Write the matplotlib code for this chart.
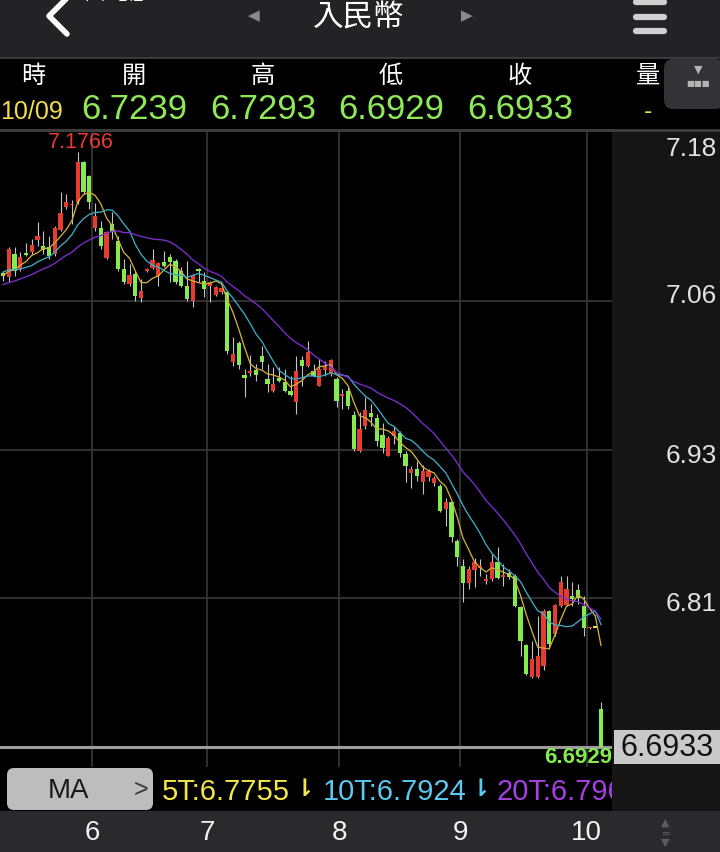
import matplotlib
matplotlib.use('Agg')
import matplotlib.pyplot as plt
import numpy as np
from matplotlib.patches import Rectangle, FancyBboxPatch
from matplotlib.lines import Line2D
from matplotlib.transforms import IdentityTransform, blended_transform_factory

# ---------------- data ----------------
title = '入民幣'
status_text = '中華電信'
header_labels = ['時', '開', '高', '低', '收', '量']
header_date = '10/09'
header_values = ['6.7239', '6.7293', '6.6929', '6.6933']
header_volume = '-'
y_tick_labels = ['7.18', '7.06', '6.93', '6.81']
month_labels = ['6', '7', '8', '9', '10']
month_start_idx = [16, 36, 59, 80, 102]
ma_periods = [5, 10, 20]

opens = [
    7.0780, 7.0747, 7.0937, 7.0815, 7.0942, 7.0951, 7.1051, 7.0999, 7.0991, 7.0937,
    7.1134, 7.1316, 7.1333, 7.1357, 7.1682, 7.1573, 7.1146, 7.1146, 7.0902, 7.1181,
    7.1045, 7.0815, 7.0693, 7.0774, 7.0577, 7.0799, 7.0820, 7.0760, 7.0869, 7.0910,
    7.0882, 7.0801, 7.0679, 7.0557, 7.0815, 7.0720, 7.0674, 7.0603, 7.0625, 7.0625,
    7.0056, 7.0213, 6.9953, 6.9967, 6.9996, 7.0110, 6.9920, 6.9825, 6.9929, 6.9899,
    6.9825, 6.9736, 7.0075, 7.0029, 6.9988, 6.9866, 6.9996, 6.9961, 6.9920, 6.9785,
    6.9825, 6.9628, 6.9338, 6.9541, 6.9642, 6.9601, 6.9465, 6.9297, 6.9460, 6.9481,
    6.9311, 6.9156, 6.9189, 6.9081, 6.9121, 6.9075, 6.9053, 6.8864, 6.8923, 6.8606,
    6.8403, 6.8262, 6.8370, 6.8384, 6.8282, 6.8295, 6.8430, 6.8315, 6.8343, 6.8321,
    6.8069, 6.7758, 6.7495, 6.7495, 6.7590, 6.8032, 6.7847, 6.8077, 6.8083, 6.8159,
    6.8207, 6.8077, 6.7893, 6.7900, 6.7239]
highs = [
    7.0801, 7.0991, 7.0991, 7.0951, 7.1026, 7.1059, 7.1194, 7.1126, 7.1086, 7.1162,
    7.1438, 7.1425, 7.1378, 7.1766, 7.1690, 7.1579, 7.1351, 7.1207, 7.1126, 7.1276,
    7.1086, 7.0896, 7.0855, 7.0801, 7.0733, 7.0823, 7.0977, 7.0869, 7.0964, 7.0937,
    7.0896, 7.0829, 7.0882, 7.0774, 7.0820, 7.0788, 7.0720, 7.0679, 7.0666, 7.0638,
    7.0259, 7.0232, 7.0002, 7.0116, 7.0042, 7.0191, 7.0042, 7.0016, 7.0016, 7.0002,
    6.9947, 7.0110, 7.0110, 7.0232, 7.0042, 7.0083, 7.0069, 7.0083, 6.9934, 6.9839,
    6.9853, 6.9663, 6.9650, 6.9772, 6.9717, 6.9636, 6.9560, 6.9460, 6.9528, 6.9500,
    6.9338, 6.9216, 6.9256, 6.9221, 6.9189, 6.9134, 6.9067, 6.8951, 6.8931, 6.8620,
    6.8457, 6.8403, 6.8463, 6.8457, 6.8335, 6.8498, 6.8552, 6.8416, 6.8376, 6.8335,
    6.8077, 6.7766, 6.7793, 6.7996, 6.8051, 6.8040, 6.8091, 6.8321, 6.8316, 6.8268,
    6.8254, 6.8159, 6.7905, 6.7900, 6.7293]
lows = [
    7.0720, 7.0707, 7.0760, 7.0801, 7.0918, 7.0937, 7.1004, 7.0937, 7.0896, 7.0923,
    7.1126, 7.1303, 7.1181, 7.1343, 7.1425, 7.1303, 7.1126, 7.0977, 7.0896, 7.1059,
    7.0801, 7.0693, 7.0679, 7.0557, 7.0544, 7.0790, 7.0815, 7.0679, 7.0829, 7.0707,
    7.0693, 7.0666, 7.0557, 7.0503, 7.0707, 7.0585, 7.0544, 7.0593, 7.0612, 7.0124,
    7.0029, 7.0002, 6.9772, 6.9947, 6.9907, 7.0002, 6.9812, 6.9812, 6.9894, 6.9812,
    6.9785, 6.9636, 6.9866, 7.0016, 6.9934, 6.9866, 6.9947, 6.9947, 6.9690, 6.9677,
    6.9677, 6.9338, 6.9329, 6.9514, 6.9541, 6.9373, 6.9319, 6.9292, 6.9392, 6.9284,
    6.9086, 6.9032, 6.9094, 6.8986, 6.9094, 6.9053, 6.8842, 6.8728, 6.8598, 6.8403,
    6.8105, 6.8213, 6.8227, 6.8321, 6.8254, 6.8281, 6.8295, 6.8235, 6.8295, 6.8064,
    6.7671, 6.7514, 6.7487, 6.7487, 6.7557, 6.7725, 6.7834, 6.8070, 6.8077, 6.8077,
    6.8091, 6.7834, 6.7888, 6.7900, 6.6929]
closes = [
    7.0760, 7.0977, 7.0801, 7.0910, 7.0929, 7.1010, 7.1086, 7.0972, 7.0923, 7.1146,
    7.1270, 7.1362, 7.1341, 7.1687, 7.1443, 7.1357, 7.1243, 7.0999, 7.1113, 7.1113,
    7.0815, 7.0707, 7.0766, 7.0598, 7.0638, 7.0807, 7.0888, 7.0861, 7.0842, 7.0869,
    7.0707, 7.0679, 7.0571, 7.0766, 7.0796, 7.0652, 7.0707, 7.0666, 7.0658, 7.0151,
    7.0124, 7.0034, 6.9926, 6.9988, 6.9955, 7.0061, 6.9880, 6.9880, 6.9907, 6.9825,
    6.9793, 6.9988, 7.0029, 7.0138, 6.9947, 7.0002, 7.0016, 7.0077, 6.9744, 6.9793,
    6.9703, 6.9351, 6.9514, 6.9671, 6.9609, 6.9419, 6.9357, 6.9438, 6.9500, 6.9316,
    6.9211, 6.9189, 6.9129, 6.9175, 6.9175, 6.9113, 6.8850, 6.8923, 6.8634, 6.8471,
    6.8262, 6.8376, 6.8430, 6.8396, 6.8295, 6.8430, 6.8303, 6.8327, 6.8308, 6.8075,
    6.7793, 6.7522, 6.7644, 6.7671, 6.8037, 6.7766, 6.8083, 6.8268, 6.8213, 6.8132,
    6.8142, 6.7900, 6.7900, 6.7900, 6.6933]
# closes of the 19 sessions before the first visible candle (used only for the moving averages)
prev_closes = [7.0620, 7.0580, 7.0550, 7.0600, 7.0650, 7.0580, 7.0530, 7.0560, 7.0610, 7.0590,
               7.0750, 7.0820, 7.0850, 7.0800, 7.0860, 7.0790, 7.0750, 7.0720, 7.0780]

# ---------------- styles ----------------
W, H = 720, 853
LAT = ['Liberation Sans', 'DejaVu Sans']
CJK = ['Noto Sans CJK TC', 'DejaVu Sans']
SYM = ['DejaVu Sans']
RED = '#e63b2e'
GREEN = '#84ea4e'
FLAT = '#f0e040'
WICK = '#c4c4c4'
GRID = '#353535'
MA_LINE = ['#cfae3a', '#3eaac6', '#7c2ed0']
MA_TEXT = ['#f4e64a', '#5cc8ee', '#a640e2']

fig = plt.figure(figsize=(W / 100, H / 100), dpi=100, facecolor='black')
ID = IdentityTransform()


def Y(y):
    return H - y


def prect(x0, y0, x1, y1, color, z=1, rounding=None):
    if rounding:
        p = FancyBboxPatch((x0, Y(y1)), x1 - x0, y1 - y0,
                           boxstyle=f'round,pad=0,rounding_size={rounding}',
                           fc=color, ec='none', transform=ID, zorder=z)
    else:
        p = Rectangle((x0, Y(y1)), x1 - x0, y1 - y0, fc=color, ec='none',
                      transform=ID, zorder=z)
    fig.add_artist(p)
    return p


def ptext(x, y, s, size, color, family=LAT, ha='center', va='center', **kw):
    return fig.text(x, Y(y), s, transform=ID, fontsize=size, color=color,
                    family=family, ha=ha, va=va, **kw)


# ---------------- main price axes ----------------
n = len(closes)
idx = np.arange(n)
hi = max(highs)
lo = min(lows)
pad = (hi - lo) * 20 / 595
ax = fig.add_axes([0, (H - 768) / H, 612 / W, (768 - 133) / H])
ax.set_facecolor('black')
ax.set_xlim(-3 / 5.75, 609 / 5.75)
ax.set_ylim(lo - pad, hi + pad)
for s in ax.spines.values():
    s.set_visible(False)
ax.set_xticks([])
ax.set_yticks([])

# grid
for k in range(1, 4):
    ax.axhline(hi - k * (hi - lo) / 4, color=GRID, lw=1.3, zorder=0.5)
for m in month_start_idx:
    ax.axvline(m - 0.5, color=GRID, lw=1.3, zorder=0.5)

# last price line
ax.axhline(closes[-1], color='#9c9c9c', lw=2.2, zorder=1)

# candles
o = np.array(opens)
c = np.array(closes)
colors = [RED if cc > oo else (GREEN if cc < oo else FLAT) for oo, cc in zip(o, c)]
ax.vlines(idx, lows, highs, colors=WICK, lw=0.8, zorder=2)
body = np.maximum(np.abs(c - o), 0.0014)
ax.bar(idx, body, bottom=np.minimum(o, c), width=0.78, color=colors,
       edgecolor='none', zorder=3)

# moving averages
allc = np.array(prev_closes + closes)
off = len(prev_closes)
mas = []
for p, col in zip(ma_periods, MA_LINE):
    ma = np.array([allc[k - p + 1:k + 1].mean() for k in range(off, len(allc))])
    mas.append(ma)
    ax.plot(idx, ma, color=col, lw=0.95, zorder=4)

# high / low labels
imax = int(np.argmax(highs))
imin = int(np.argmin(lows))
ax.annotate(f'{hi:.4f}', xy=(imax, hi), xytext=(2, 7.5), textcoords='offset points',
            ha='center', va='center', color=RED, fontsize=15.5, family=LAT, zorder=6)
ax.annotate(f'{lo:.4f}', xy=(imin, lo), xytext=(8, -6.5), textcoords='offset points',
            ha='right', va='center', color=GREEN, fontsize=16, family=LAT,
            fontweight='bold', zorder=6)

# ---------------- chrome ----------------
# top bar
prect(0, 0, 720, 58, '#232326')
prect(0, 58, 720, 60, '#3a3a3c')
fig.add_artist(Line2D([67, 49, 67], [Y(-1), Y(17), Y(35)], color='white', lw=4,
                      transform=ID, solid_capstyle='round', solid_joinstyle='round', zorder=2))
ptext(78, 4, status_text, 12, 'white', CJK, ha='left', va='bottom')
ptext(359, 18, title, 22, 'white', CJK)
ptext(254, 16, '◀', 11, '#8a8a8a', SYM)
ptext(467, 16, '▶', 11, '#8a8a8a', SYM)
for yy in (3, 18, 32):
    fig.add_artist(Line2D([636, 664], [Y(yy), Y(yy)], color='#d0d0d0', lw=4.5,
                          transform=ID, solid_capstyle='round', zorder=2))

# quote table
label_x = [33, 134, 263, 391, 520, 648]
for lab, x in zip(header_labels, label_x):
    ptext(x, 76, lab, 17.5, 'white', CJK)
ptext(0, 112, header_date, 18, '#f0dc4a', LAT, ha='left')
for v, x in zip(header_values, label_x[1:5]):
    ptext(x, 110, v, 25, '#8ee85a', LAT)
ptext(648, 112, header_volume, 18, '#f0dc4a', LAT)
prect(664, 60, 724, 110, '#333335', rounding=9)
ptext(698, 70, '▼', 8, '#b4b4b4', SYM)
ptext(698, 84, '■■■', 6, '#b4b4b4', SYM)
prect(0, 130, 720, 133, '#3c3c3c')

# right price-scale panel
prect(612, 133, 720, 812, '#151515')
blend_y = blended_transform_factory(ID, ax.transData)
for lab in y_tick_labels:
    fig.text(717, float(lab), lab, transform=blend_y, ha='right', va='center',
             fontsize=19, color='#e2e2e2', family=LAT)
ppu = (768 - 133) / (2 * pad + hi - lo)
box = Rectangle((614, closes[-1] - 17 / ppu), 106, 34 / ppu, fc='#c9c9c9', ec='none',
                transform=blend_y, zorder=1)
fig.add_artist(box)
fig.text(667, closes[-1], f'{closes[-1]:.4f}', transform=blend_y, ha='center', va='center',
         fontsize=22, color='#111111', family=LAT)

# MA legend bar
ax_ma = fig.add_axes([0, (H - 812) / H, 612 / W, 44 / H])
ax_ma.set_facecolor('black')
for s in ax_ma.spines.values():
    s.set_visible(False)
ax_ma.set_xticks([])
ax_ma.set_yticks([])
prect(7, 769, 153, 811, '#bdbdbd', rounding=7)
ptext(69, 791, 'MA', 20, '#1a1a1a', LAT)
ptext(141, 790, '>', 18, '#3a3a3a', LAT)
ma_text_x = [162, 323, 497]
arrow_x = [304, 480, None]
for p, ma, col, tx, axx in zip(ma_periods, mas, MA_TEXT, ma_text_x, arrow_x):
    ax_ma.text(tx, Y(792), f'{p}T:{ma[-1]:.4f}', transform=ID, fontsize=21, color=col,
               family=LAT, ha='left', va='center')
    if axx is not None:
        ax_ma.text(axx, Y(789), '⇂', transform=ID, fontsize=17, color=col,
                   family=SYM, ha='center', va='center', fontweight='bold')

# bottom month axis
prect(0, 812, 720, 853, '#2a2a2c')
blend_x = blended_transform_factory(ax.transData, ID)
for lab, m in zip(month_labels, month_start_idx):
    fig.text(m - 0.5, Y(833), lab, transform=blend_x, ha='center', va='center',
             fontsize=20, color='#f2f2f2', family=LAT)
ptext(665, 823, '▲', 8, '#5c5c5c', SYM)
ptext(665, 833, '═', 8, '#5c5c5c', SYM)
ptext(665, 843, '▼', 8, '#5c5c5c', SYM)

fig.savefig('out.png', dpi=100, facecolor='black')
